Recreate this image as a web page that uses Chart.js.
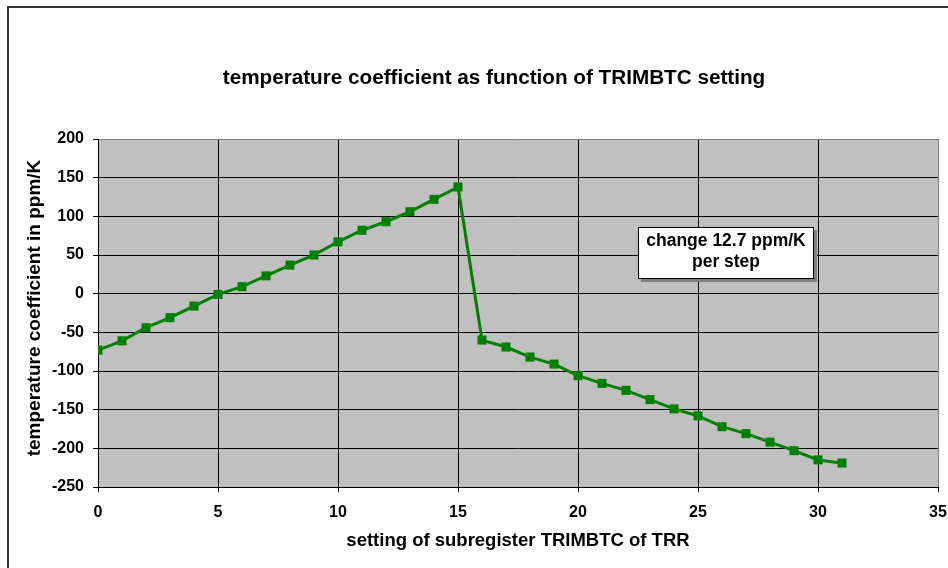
<!DOCTYPE html>
<html>
<head>
<meta charset="utf-8">
<script src="https://cdn.jsdelivr.net/npm/chart.js@4"></script>
<style>
    html, body { margin: 0; padding: 0; background: #fff; overflow: hidden; }
    #frame { position: absolute; left: 7px; top: 6px; width: 960px; height: 580px; border: 2px solid #333; }
    #chart { position: absolute; left: 0; top: 0; }
</style>
</head>
<body>
<div id="frame"></div>
<canvas id="chart" width="948" height="568"></canvas>
<script>
// =============================================================================
// Temperatuurcoefficient per TRIMBTC-stap
// =============================================================================

const settings = [0, 1, 2, 3, 4, 5, 6, 7, 8, 9, 10, 11, 12, 13, 14, 15,
    16, 17, 18, 19, 20, 21, 22, 23, 24, 25, 26, 27, 28, 29, 30, 31];
const tempCoeff = [-73, -61, -44, -31, -16, -1, 9, 23, 37, 50, 67, 82, 93, 106, 122, 138,
    -60, -69, -82, -91, -106, -116, -125, -137, -149, -158, -172, -181, -192, -203, -215, -219];
const xTicks = { min: 0, max: 35, step: 5 };
const yTicks = { min: -250, max: 200, step: 50 };

const titleText = 'temperature coefficient as function of TRIMBTC setting';
const xTitle = 'setting of subregister TRIMBTC of TRR';
const yTitle = 'temperature coefficient in ppm/K';
const noteLines = ['change 12.7 ppm/K', 'per step'];

const FONT = "'Liberation Sans', Arial, sans-serif";

const decorPlugin = {
    id: 'decor',
    beforeDraw(chart) {
        const { ctx, chartArea: a } = chart;
        ctx.save();
        ctx.fillStyle = '#c0c0c0';
        ctx.fillRect(a.left, a.top, a.right - a.left, a.bottom - a.top);
        ctx.restore();
    },
    afterDraw(chart) {
        const { ctx } = chart;
        ctx.save();
        ctx.fillStyle = '#000';
        ctx.textAlign = 'center';
        ctx.textBaseline = 'middle';

        ctx.font = `bold 20.7px ${FONT}`;
        ctx.fillText(titleText, 494, 78);

        ctx.font = `bold 18.5px ${FONT}`;
        ctx.fillText(xTitle, 518, 541);

        ctx.font = `bold 19px ${FONT}`;
        ctx.translate(35, 308);
        ctx.rotate(-Math.PI / 2);
        ctx.fillText(yTitle, 0, 0);
        ctx.restore();

        // tekstvak met schaduw
        ctx.save();
        const bx = 638, by = 227, bw = 176, bh = 52;
        ctx.fillStyle = '#808080';
        ctx.fillRect(bx + 3, by + 3, bw, bh);
        ctx.fillStyle = '#fff';
        ctx.fillRect(bx, by, bw, bh);
        ctx.strokeStyle = '#000';
        ctx.lineWidth = 1;
        ctx.strokeRect(bx + 0.5, by + 0.5, bw - 1, bh - 1);
        ctx.fillStyle = '#000';
        ctx.font = `bold 17.5px ${FONT}`;
        ctx.textAlign = 'center';
        ctx.textBaseline = 'middle';
        ctx.fillText(noteLines[0], bx + bw / 2, by + 14);
        ctx.fillText(noteLines[1], bx + bw / 2, by + 35);
        ctx.restore();
    }
};

new Chart(document.getElementById('chart'), {
    type: 'line',
    data: {
        datasets: [{
            data: settings.map((s, i) => ({ x: s, y: tempCoeff[i] })),
            borderColor: '#008000',
            backgroundColor: '#008000',
            borderWidth: 3,
            pointStyle: 'rect',
            pointRadius: 6.4,
            pointBorderWidth: 0,
            tension: 0
        }]
    },
    options: {
        responsive: false,
        animation: false,
        layout: { padding: { left: 0, top: 139, right: 10, bottom: 0 } },
        plugins: {
            legend: { display: false },
            tooltip: { enabled: false }
        },
        scales: {
            x: {
                type: 'linear',
                min: xTicks.min,
                max: xTicks.max,
                afterFit: s => { s.height = 81; s.paddingLeft = 0; s.paddingRight = 0; },
                ticks: {
                    stepSize: xTicks.step,
                    color: '#000',
                    padding: 11,
                    maxRotation: 0,
                    font: { family: FONT, size: 16, weight: 'bold' }
                },
                grid: {
                    color: c => c.tick && c.tick.value === xTicks.max ? '#808080' : '#000',
                    tickColor: '#000',
                    tickLength: 5,
                    lineWidth: 1
                },
                border: { color: '#000', width: 1 }
            },
            y: {
                min: yTicks.min,
                max: yTicks.max,
                afterFit: s => { s.width = 98; s.paddingTop = 0; s.paddingBottom = 0; },
                ticks: {
                    stepSize: yTicks.step,
                    color: '#000',
                    padding: 9,
                    font: { family: FONT, size: 16, weight: 'bold' }
                },
                grid: {
                    color: c => c.tick && c.tick.value === yTicks.max ? '#808080' : '#000',
                    tickColor: '#000',
                    tickLength: 5,
                    lineWidth: 1
                },
                border: { color: '#000', width: 1 }
            }
        }
    },
    plugins: [decorPlugin]
});
</script>
</body>
</html>
